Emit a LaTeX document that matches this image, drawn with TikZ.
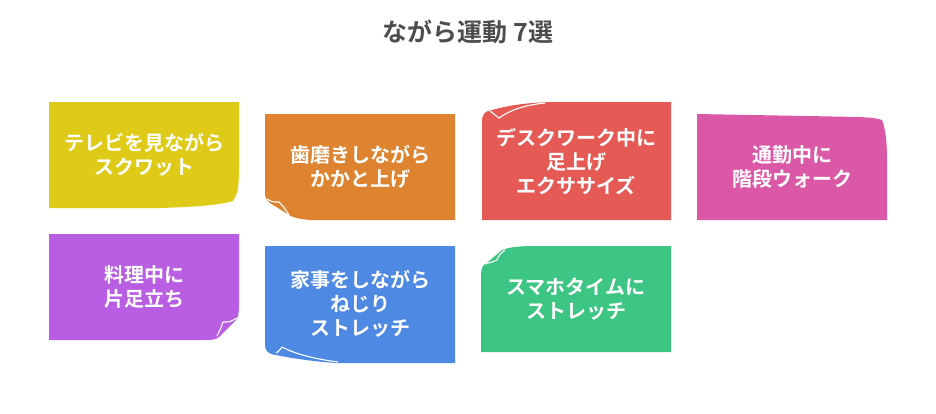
\documentclass[tikz,border=0pt]{standalone}
\usepackage{fontspec}
\usepackage{tikz}
\usetikzlibrary{positioning}
\newfontfamily\jpfont{Noto Sans CJK JP}[BoldFont={Noto Sans CJK JP Bold}]
\usepackage{xcolor}
\definecolor{ngtitle}{RGB}{77,77,77}
\definecolor{ngyellow}{RGB}{223,203,23}
\definecolor{ngorange}{RGB}{222,132,49}
\definecolor{ngred}{RGB}{229,90,85}
\definecolor{ngpink}{RGB}{219,88,167}
\definecolor{ngpurple}{RGB}{185,93,227}
\definecolor{ngblue}{RGB}{78,137,228}
\definecolor{nggreen}{RGB}{61,197,131}
\tikzstyle{cardtext} = [text=white, align=center, font=\jpfont\bfseries\fontsize{20}{24}\selectfont]
\tikzstyle{foldline} = [white, line width=1.1pt]

\begin{document}
\begin{tikzpicture}[x=1pt, y=-1pt]
\useasboundingbox (0,0) rectangle (936,413);

\node[text=ngtitle, font=\jpfont\bfseries\fontsize{25}{29}\selectfont] (title) at (468,32) {ながら運動 7選};

% top row
\fill[ngyellow] (49,102) -- (239,102) -- (239,175) .. controls (238,192) .. (233,201)
  .. controls (215,206) and (190,207) .. (160,208) -- (49,208) -- cycle;
\fill[ngorange] (265,114) -- (455,114) -- (455,220) -- (310,220)
  .. controls (298,219) and (292,217) .. (289,215) -- (270,203)
  .. controls (266,200) and (265,197) .. (265,192) -- cycle;
\draw[foldline] (267,199) .. controls (272,202) .. (279,202) .. controls (283,206) .. (289,215);
\fill[ngred] (482,220) -- (482,122) .. controls (482,114) and (485,111) .. (492,110)
  .. controls (510,105) and (530,102) .. (560,102) -- (671,102) -- (671,220) -- cycle;
\draw[foldline] (490,111) -- (499,118) .. controls (510,110) and (525,105) .. (545,103);
\fill[ngpink] (697,114) -- (860,117) .. controls (875,118) .. (882,120)
  .. controls (886,130) and (887,145) .. (887,160) -- (887,220) -- (697,220) -- cycle;

\node[cardtext] (tv) at (144,155) {テレビを見ながら\\スクワット};
\node[cardtext] (teeth) at (360,167) {歯磨きしながら\\かかと上げ};
\node[cardtext] (desk) at (576,161) {デスクワーク中に\\足上げ\\エクササイズ};
\node[cardtext] (commute) at (792,167) {通勤中に\\階段ウォーク};

% bottom row
\fill[ngpurple] (49,234) -- (239,234) -- (239,305) .. controls (239,314) and (238,318) .. (236,320)
  -- (219,337) .. controls (214,340) .. (200,340) -- (49,340) -- cycle;
\draw[foldline] (237,318) .. controls (230,322) .. (223,322) .. controls (221,328) .. (217,336);
\fill[ngblue] (265,246) -- (455,246) -- (455,363) -- (335,363)
  .. controls (310,361) and (290,358) .. (276,355) .. controls (268,354) and (265,351) .. (265,345) -- cycle;
\draw[foldline] (276,353) .. controls (279,351) .. (282,347) .. controls (295,354) and (315,359) .. (338,362);
\fill[nggreen] (481,352) -- (481,275) .. controls (481,268) and (483,264) .. (488,262)
  -- (502,250) .. controls (510,247) and (520,246) .. (535,246) -- (671,246) -- (671,352) -- cycle;
\draw[foldline] (485,264) .. controls (492,262) .. (497,260) .. controls (499,255) .. (505,250);

\node[cardtext] (cook) at (144,287) {料理中に\\片足立ち};
\node[cardtext] (chores) at (360,304) {家事をしながら\\ねじり\\ストレッチ};
\node[cardtext] (phone) at (576,299) {スマホタイムに\\ストレッチ};
\end{tikzpicture}
\end{document}
